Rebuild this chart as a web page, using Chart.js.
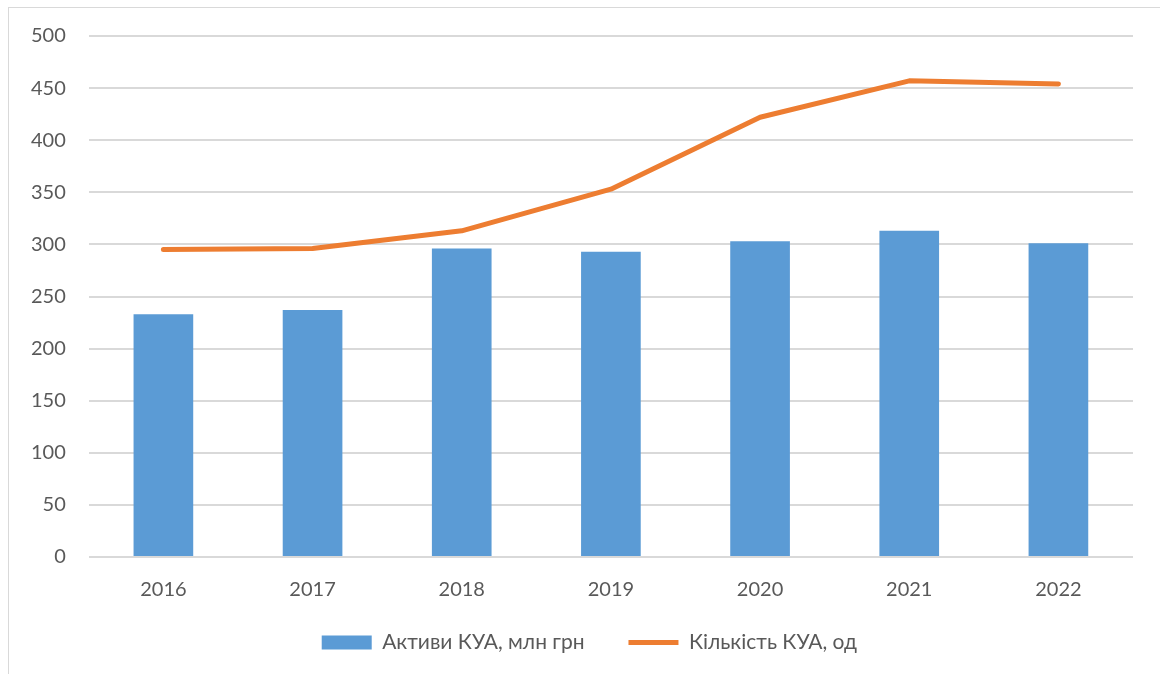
<!DOCTYPE html>
<html>
<head>
<meta charset="utf-8">
<script src="https://cdn.jsdelivr.net/npm/chart.js@4"></script>
<style>
  body { margin: 0; background: #fff; }
  #wrap { position: relative; width: 1160px; height: 674px; overflow: hidden; }
  #frame { position: absolute; left: 8px; top: 7px; width: 1170px; height: 700px; border: 1px solid #d9d9d9; }
  canvas { position: absolute; left: 0; top: 0; }
</style>
</head>
<body>
<div id="wrap">
  <div id="frame"></div>
  <canvas id="chart" width="1160" height="674"></canvas>
</div>
<script>
const years = ['2016', '2017', '2018', '2019', '2020', '2021', '2022'];
const assets = [233, 237, 296, 293, 303, 313, 301];   // Активи КУА, млн грн
const companies = [295, 296, 313, 353, 422, 457, 454]; // Кількість КУА, од
const yTicks = [0, 50, 100, 150, 200, 250, 300, 350, 400, 450, 500];

const font = 'Lato, "Open Sans", sans-serif';
const gap = n => '\u00a0'.repeat(n);

new Chart(document.getElementById('chart'), {
  data: {
    labels: years,
    datasets: [
      {
        type: 'line',
        label: 'Кількість КУА, од',
        data: companies,
        borderColor: '#ED7D31',
        backgroundColor: '#ED7D31',
        borderWidth: 5,
        borderCapStyle: 'round',
        borderJoinStyle: 'round',
        pointRadius: 0,
        pointStyle: 'line',
        tension: 0,
        order: 0
      },
      {
        type: 'bar',
        label: 'Активи КУА, млн грн',
        data: assets,
        backgroundColor: '#5B9BD5',
        pointStyle: 'rect',
        barPercentage: 0.8,
        categoryPercentage: 0.5,
        order: 1
      }
    ]
  },
  options: {
    responsive: false,
    animation: false,
    layout: { padding: { left: 8, right: 27, top: 36, bottom: 11 } },
    plugins: {
      tooltip: { enabled: false },
      legend: {
        position: 'bottom',
        fullSize: false,
        reverse: true,
        labels: {
          usePointStyle: true,
          pointStyleWidth: 50,
          boxHeight: 14,
          padding: 17,
          color: '#595959',
          font: { family: font, size: 21 },
          generateLabels: chart => {
            const items = Chart.defaults.plugins.legend.labels.generateLabels(chart);
            // spacing like the original legend: wide gap between entries, shifted a bit left of plot centre
            items.forEach(it => { it.text += gap(it.datasetIndex === 1 ? 5 : 8); });
            return items;
          }
        }
      }
    },
    scales: {
      x: {
        grid: { display: false },
        border: { display: false },
        ticks: { color: '#595959', padding: 13, font: { family: font, size: 20 } }
      },
      y: {
        min: 0,
        max: 500,
        afterBuildTicks: axis => { axis.ticks = yTicks.map(v => ({ value: v })); },
        grid: { color: '#d9d9d9', lineWidth: 2, drawTicks: false },
        border: { display: false },
        ticks: { color: '#595959', padding: 23, font: { family: font, size: 20 } }
      }
    }
  }
});
</script>
</body>
</html>
